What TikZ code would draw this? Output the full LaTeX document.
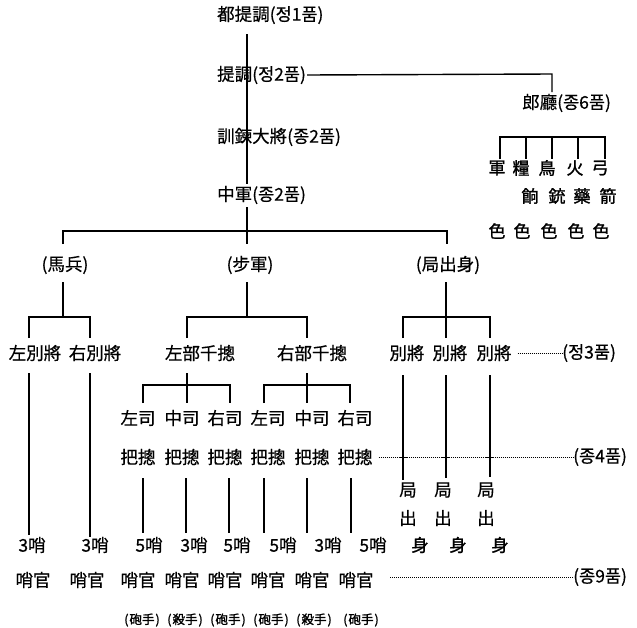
\documentclass[tikz,border=0pt]{standalone}
\usepackage{fontspec}
\setmainfont[FakeBold=0.5]{Noto Sans CJK KR}
\newfontfamily\boldcjk[FakeBold=1.4]{Noto Sans CJK KR}
\begin{document}
\begin{tikzpicture}[x=1pt,y=-1pt,
  lab/.style={inner sep=0pt,font=\fontsize{17.5}{19}\selectfont},
  rlab/.style={inner sep=0pt,font=\fontsize{17.5}{19}\selectfont},
  blab/.style={inner sep=0pt,font=\fontsize{17}{19}\selectfont\boldcjk},
  slab/.style={inner sep=0pt,font=\fontsize{12.5}{14}\selectfont\boldcjk},
  ln/.style={line width=1.4pt},
  dotln/.style={line width=0.7pt,dash pattern=on 1.2pt off 0.8pt}]
\useasboundingbox (0,0) rectangle (637,627);
\fill[white] (0,0) rectangle (637,627);

% ---- top chain ----
\node[lab,anchor=west] (dojejo) at (217,15) {都提調(정1품)};
\node[lab,anchor=west] (jejo) at (217,75) {提調(정2품)};
\node[lab,anchor=west] (hullyeon) at (217,137) {訓鍊大將(종2품)};
\node[lab,anchor=west] (junggun) at (217,195) {中軍(종2품)};
\coordinate (c1) at (247,34);
\coordinate (c2) at (247,184);
\draw[ln] (c1) -- (c2);

% ---- 郎廳 branch ----
\node[lab,anchor=west] (nang) at (522,103) {郎廳(종6품)};
\coordinate (n1) at (552,74);
\coordinate (n2) at (552,92);
\draw[ln] ([xshift=1pt]jejo.east) -- (n1) -- (n2);
\foreach \x/\t [count=\i] in {497/軍,521/糧,547/鳥,575/火,600/弓}
  \node[blab] (ra\i) at (\x,168) {\t};
\foreach \x/\t [count=\i] in {530/餉,557/銃,582/藥,608/箭}
  \node[blab] (rb\i) at (\x,196) {\t};
\foreach \x [count=\i] in {497,522,549,576,601}
  \node[blab] (rc\i) at (\x,231) {色};
\draw[ln] (500,159) -- (500,137) -- (605,137) -- (605,159);
\foreach \x in {526,552,578} \draw[ln] (\x,137) -- (\x,159);

% ---- three divisions ----
\coordinate (m0) at (247,207);
\coordinate (m1) at (247,231);
\draw[ln] (m0) -- (m1);
\draw[ln] (63,244) -- (63,231) -- (447,231) -- (447,244);
\draw[ln] (m1) -- (247,244);
\node[lab] (mabyeong) at (65,265) {(馬兵)};
\node[lab] (bogun) at (250,265) {(步軍)};
\node[lab] (guk) at (448,265) {(局出身)};
\draw[ln] (63,282) -- (63,317);
\draw[ln] (247,282) -- (247,317);
\draw[ln] (446,282) -- (446,317);

% ---- 馬兵 ----
\draw[ln] (29,338) -- (29,317) -- (90,317) -- (90,338);
\node[lab] (jbj) at (35,353) {左別將};
\node[lab] (ubj) at (95,353) {右別將};
\draw[ln] (29,373) -- (29,535);
\draw[ln] (90,373) -- (90,537);
\node[lab] (s1) at (32,545) {3哨};
\node[lab] (s2) at (95,545) {3哨};
\node[lab] (o1) at (33,580) {哨官};
\node[lab] (o2) at (87,580) {哨官};

% ---- 步軍 ----
\draw[ln] (187,338) -- (187,317) -- (307,317) -- (307,338);
\node[lab] (jbc) at (200,353) {左部千摠};
\node[lab] (ubc) at (312,353) {右部千摠};
\draw[ln] (187,373) -- (187,385);
\draw[ln] (143,403) -- (143,385) -- (230,385) -- (230,403);
\draw[ln] (187,385) -- (187,403);
\draw[ln] (307,373) -- (307,385);
\draw[ln] (264,403) -- (264,385) -- (350,385) -- (350,403);
\draw[ln] (307,385) -- (307,403);
\foreach \x/\t [count=\i] in {138/左司,182/中司,225/右司,268/左司,312/中司,355/右司}
  \node[lab] (sa\i) at (\x,418) {\t};
\foreach \x [count=\i] in {138,182,225,268,312,355}
  \node[lab] (pc\i) at (\x,457) {把摠};
\foreach \x in {143,186,229,264,307,351}
  \draw[ln] (\x,478) -- (\x,533);
\foreach \x/\t [count=\i] in {149/5哨,194/3哨,237/5哨,283/5哨,328/3哨,373/5哨}
  \node[lab] (sb\i) at (\x,545) {\t};
\foreach \x [count=\i] in {138,182,225,268,312,356}
  \node[lab] (so\i) at (\x,580) {哨官};
\foreach \x/\t [count=\i] in {142/砲,185/殺,228/砲,271/砲,314/殺,361/砲}
  \node[slab] (su\i) at (\x,620) {(\kern1pt\t 手\kern1pt)};

% ---- 局出身 ----
\draw[ln] (403,338) -- (403,317) -- (490,317) -- (490,338);
\draw[ln] (446,317) -- (446,338);
\foreach \x [count=\i] in {407,450,494}
  \node[lab] (bj\i) at (\x,353) {別將};
\draw[ln] (403,375) -- (403,480);
\draw[ln] (446,375) -- (446,478);
\draw[ln] (490,375) -- (490,477);
\foreach \x [count=\i] in {408,443,486}
  \node[lab] (gk\i) at (\x,490) {局};
\foreach \x [count=\i] in {408,443,486}
  \node[lab] (gc\i) at (\x,518) {出};
\foreach \x [count=\i] in {420,458,500}
  \node[lab] (gs\i) at (\x,545) {身};

% ---- rank lines ----
\node[rlab,anchor=west] (r3) at (562,353) {(정3품)};
\node[rlab,anchor=west] (r4) at (573,457) {(종4품)};
\node[rlab,anchor=west] (r9) at (573,577) {(종9품)};
\draw[dotln] ([xshift=6pt]bj3.east) -- (r3.west);
\draw[dotln] ([xshift=6pt]pc6.east) -- (r4.west);
\draw[dotln] (390,577) -- (r9.west);
\foreach \x in {403,446,490} \draw[line width=1pt] (\x-4,457) -- (\x+4,457);
\end{tikzpicture}
\end{document}
